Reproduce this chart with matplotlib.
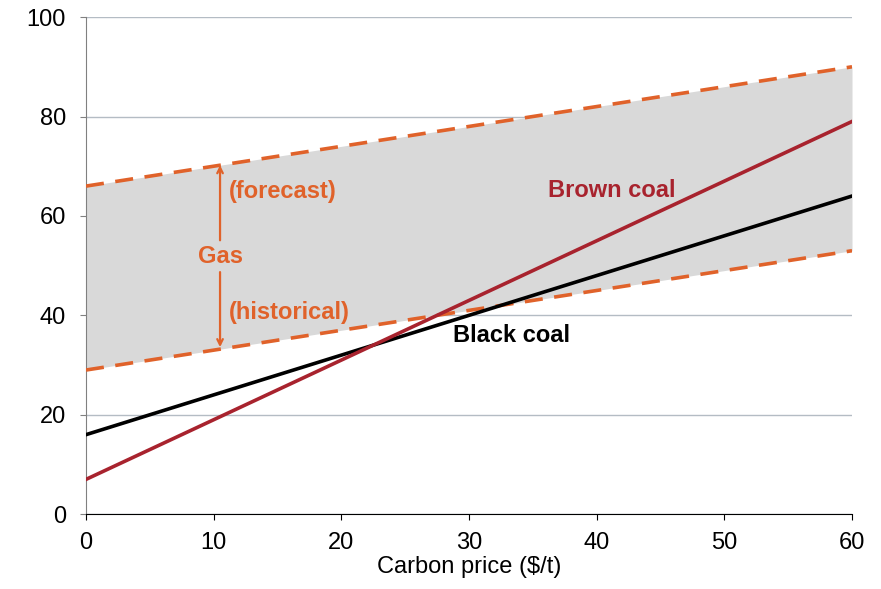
import numpy as np
import matplotlib.pyplot as plt

plt.rcParams['font.family'] = ['Liberation Sans', 'DejaVu Sans']

carbon_price = [0, 60]
black_coal = [16, 64]
brown_coal = [7, 79]
gas_low = [29, 53]     # historical
gas_high = [66, 90]    # forecast

orange = '#E0622A'
brown = '#A8232E'
fs = 17

fig = plt.figure(figsize=(8.81, 5.89), dpi=100)
ax = fig.add_axes([0.0976, 0.127, 0.8695, 0.844])

ax.fill_between(carbon_price, gas_low, gas_high, color='#D9D9D9', zorder=1, lw=0)
ax.plot(carbon_price, gas_high, color=orange, lw=2.6, ls=(0, (5, 3.2)), zorder=3)
ax.plot(carbon_price, gas_low, color=orange, lw=2.6, ls=(0, (5, 3.2)), zorder=3)
ax.plot(carbon_price, black_coal, color='black', lw=2.6, zorder=4)
ax.plot(carbon_price, brown_coal, color=brown, lw=2.6, zorder=5)

# gas arrows
xa = 10.5
ax.annotate('', xy=(xa, 70.2), xytext=(xa, 55.1),
            arrowprops=dict(arrowstyle='->', color=orange, lw=1.6,
                            shrinkA=0, shrinkB=0), zorder=6)
ax.annotate('', xy=(xa, 33.6), xytext=(xa, 48.7),
            arrowprops=dict(arrowstyle='->', color=orange, lw=1.6,
                            shrinkA=0, shrinkB=0), zorder=6)
ax.text(xa, 51.9, 'Gas', color=orange, fontsize=fs, fontweight='bold', ha='center', va='center')
ax.text(11.2, 65.0, '(forecast)', color=orange, fontsize=fs, fontweight='bold', ha='left', va='center')
ax.text(11.2, 40.6, '(historical)', color=orange, fontsize=fs, fontweight='bold', ha='left', va='center')
ax.text(41.2, 65.2, 'Brown coal', color=brown, fontsize=fs, fontweight='bold', ha='center', va='center')
ax.text(33.3, 36.0, 'Black coal', color='black', fontsize=fs, fontweight='bold', ha='center', va='center')

ax.set_xlim(0, 60)
ax.set_ylim(0, 100)
ax.set_xticks(np.arange(0, 61, 10))
ax.set_yticks(np.arange(0, 101, 20))
ax.yaxis.grid(True, color='#B4BCC4', lw=1)
ax.set_axisbelow(True)
for s in ['top', 'right']:
    ax.spines[s].set_visible(False)
ax.spines['left'].set_color('#808080')
ax.spines['bottom'].set_color('black')
ax.tick_params(axis='both', labelsize=fs, length=4.5, direction='out')
ax.tick_params(axis='x', pad=8)
ax.tick_params(axis='y', colors='#808080', labelcolor='black', pad=10)
ax.set_xlabel('Carbon price ($/t)', fontsize=fs, labelpad=2)

fig.savefig('out.png', dpi=100)
